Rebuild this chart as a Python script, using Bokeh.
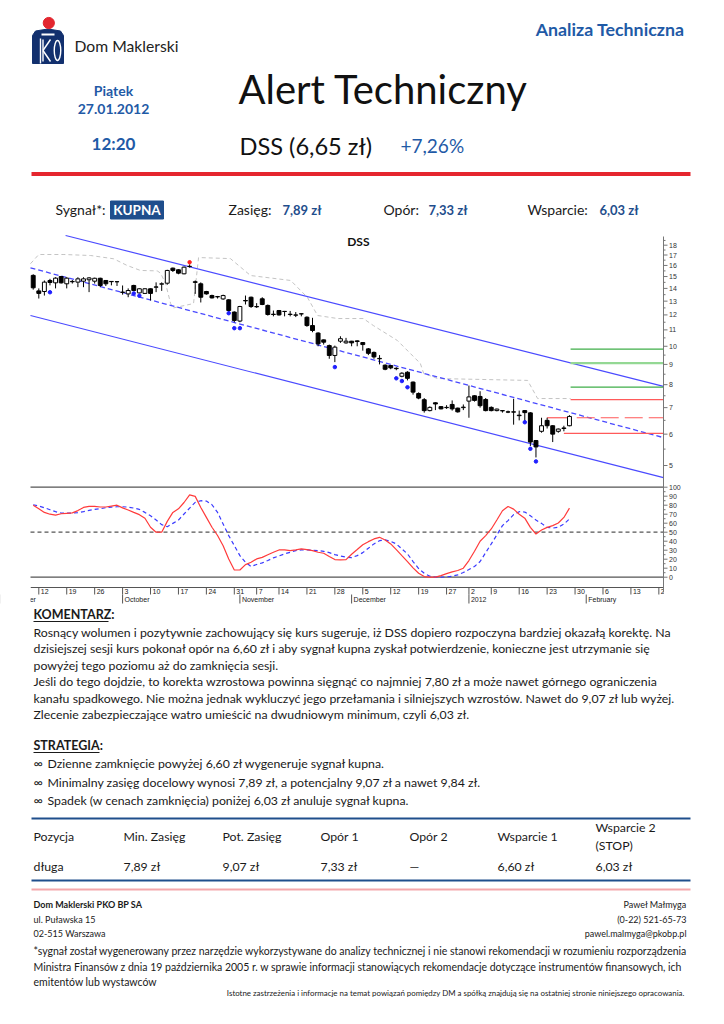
import math
from bokeh.plotting import figure
from bokeh.models import Range1d, LogScale, ColumnDataSource
from bokeh.core.properties import value
from bokeh.embed import file_html
from bokeh.resources import INLINE

# ---------------- data ----------------
idx = list(range(-1, 96))  # trading-day index, 0 = 2011-09-12, 95 = 2012-01-27
open_ = [15.1, 13.8, 13.75, 14.66, 14.46, 15.0, 14.38, 14.58, 14.52, 14.6, 14.72, 14.6, 14.85, 14.66, 14.58, 14.56,
         13.7, 13.56, 14.24, 13.64, 13.6, 13.97, 14.1, 14.35, 14.43, 15.75, 15.6, 15.24, 15.9, 14.55, 14.38, 13.75,
         13.43, 13.35, 13.17, 13.1, 12.2, 11.58, 13.05, 13.3, 12.6, 13.18, 12.68, 12.05, 12.31, 12.25, 12.05, 11.98,
         12.08, 11.84, 11.28, 10.8, 10.38, 10.04, 9.48, 10.3, 10.2, 10.3, 10.32, 10.22, 9.85, 9.65, 9.32, 8.96, 8.94,
         8.8, 8.4, 8.6, 8.12, 7.6, 7.33, 6.88, 7.2, 7.04, 7.0, 7.13, 6.98, 7.0, 7.27, 7.5, 7.47, 7.34, 7.01, 6.88, 6.88,
         6.83, 6.83, 6.7, 6.88, 6.79, 5.78, 6.1, 6.5, 6.3, 6.1, 6.2, 6.3]
high = [15.2, 14.0, 14.66, 14.8, 14.94, 15.05, 14.94, 14.7, 14.94, 14.94, 14.94, 14.9, 14.9, 14.7, 14.6, 14.58,
        14.24, 14.0, 14.3, 14.0, 14.0, 14.0, 14.5, 14.5, 15.6, 15.8, 15.65, 15.9, 16.1, 14.66, 14.5, 13.8,
        13.5, 13.4, 13.5, 13.15, 12.25, 12.65, 13.43, 13.35, 12.85, 13.3, 12.75, 12.31, 12.35, 12.28, 12.28, 12.2,
        12.1, 11.9, 11.8, 10.85, 10.4, 10.1, 10.04, 10.6, 10.5, 10.32, 10.35, 10.25, 9.9, 9.7, 9.5, 9.0, 8.97,
        8.85, 8.6, 8.65, 8.15, 7.65, 7.4, 7.05, 7.22, 7.06, 7.1, 7.3, 7.0, 7.13, 7.96, 7.52, 7.7, 7.4, 7.05, 6.96, 6.9,
        6.88, 7.37, 6.88, 6.9, 6.82, 5.8, 6.6, 6.6, 6.32, 6.2, 6.3, 6.7]
low = [13.9, 13.2, 13.43, 14.25, 14.0, 14.4, 14.0, 14.4, 14.1, 14.1, 13.7, 14.4, 14.1, 14.2, 14.25, 14.2,
       13.5, 13.3, 13.8, 13.6, 13.55, 13.05, 13.7, 13.8, 14.3, 15.4, 15.2, 15.2, 15.8, 13.56, 12.9, 13.5,
       13.2, 13.2, 13.1, 12.2, 11.5, 11.5, 12.75, 12.5, 12.5, 12.7, 11.95, 11.9, 11.95, 11.9, 11.9, 11.85,
       11.9, 11.2, 10.85, 10.0, 10.1, 9.3, 9.12, 10.2, 10.15, 10.0, 10.0, 9.75, 9.5, 9.3, 9.0, 8.7, 8.75,
       8.7, 8.35, 8.2, 7.55, 7.35, 6.8, 6.85, 6.9, 6.93, 6.95, 6.88, 6.8, 6.9, 6.6, 7.25, 7.0, 6.85, 6.85, 6.85, 6.8,
       6.78, 6.34, 6.5, 6.45, 5.6, 5.24, 6.05, 6.2, 5.73, 6.05, 6.1, 6.28]
close = [14.05, 13.6, 14.52, 14.49, 14.86, 14.46, 14.86, 14.55, 14.8, 14.8, 14.88, 14.85, 14.24, 14.38, 14.56, 14.55,
         13.68, 13.83, 13.83, 13.97, 13.97, 13.6, 14.12, 14.38, 15.54, 15.54, 15.3, 15.84, 15.92, 14.5, 13.3, 13.56,
         13.25, 13.33, 13.43, 12.31, 11.62, 12.6, 13.02, 12.6, 12.58, 12.75, 12.03, 12.03, 12.0, 12.24, 12.03, 12.0,
         12.07, 11.28, 10.96, 10.14, 10.24, 9.48, 9.95, 10.45, 10.3, 10.2, 10.28, 10.1, 9.6, 9.4, 9.3, 8.75, 8.82,
         8.78, 8.55, 8.3, 7.66, 7.4, 6.88, 7.01, 7.15, 6.95, 7.01, 6.95, 6.83, 7.02, 7.45, 7.3, 7.08, 6.88, 6.88, 6.94, 6.87,
         6.82, 6.82, 6.68, 6.8, 5.73, 5.57, 6.3, 6.3, 6.0, 6.18, 6.22, 6.65]

stoch_k = [80, 76, 72, 70, 69, 70.5, 71, 71.5, 74, 77.5, 78.6, 78.6, 78, 78, 79, 80, 77, 74.6, 72, 69.5, 65.5, 55.5,
           50, 50, 62, 72, 76, 83, 91.5, 89.8, 77.5, 66.5, 55.5, 46.3, 35, 20.3, 8, 8, 14, 16.6, 20.3, 22, 25, 27.7,
           30.3, 30.3, 29.6, 30.3, 31.4, 30.7, 29.6, 27.7, 26.6, 22.9, 19.6, 19.2, 19.6, 25.5, 30.7, 36, 39.5, 42.5,
           44.3, 41.4, 37, 30.7, 24, 17.4, 10.4, 4.4, 0.7, 0, 0, 1.8, 4, 5.9, 7.4, 10, 18.5, 28.8, 39.9, 46.2, 53.6,
           63.5, 73.9, 78.6, 75.6, 70, 65.6, 55.4, 48, 52.4, 55.4, 57.3, 60.2, 66.4, 76.8]
stoch_d = [80.5, 79, 77.2, 75, 72.8, 71.3, 71.3, 71.3, 71.7, 72.8, 74.2, 75.3, 76.1, 77.2, 77.9, 78.3, 78.3, 77.9,
           76.8, 75.3, 72, 68.3, 63.5, 58.4, 56.1, 59.8, 63.5, 70.2, 76.8, 83.1, 85, 84.6, 80.5, 72, 59.1, 46.2, 35.1,
           24, 16.6, 11.9, 14.1, 15.9, 18.5, 21.5, 23.6, 25.9, 27.7, 29.6, 30.3, 30.3, 29.9, 29.6, 28.8, 27.3, 25.1,
           23.6, 22.2, 21.8, 24, 27.3, 32.2, 37, 40.6, 41.4, 39.9, 37, 31.4, 25.9, 17.4, 9.6, 4.4, 1.1, 0, 0, 0.4, 1.1,
           2.6, 5.2, 8.5, 11.9, 17.4, 27.3, 37, 47, 57.3, 62.9, 69.5, 72.8, 72.4, 68.3, 63.5, 59.8, 55.4, 54.6, 55.4,
           59.1, 64.7]

# trailing stop (grey dashed) vertices: (index, price)
stop_x = [-1.49, 0, 4.5, 9.3, 13.4, 15.8, 18.2, 21.2, 21.8, 22.7, 23.6, 24.1, 27.7, 28.6, 34.3, 37.9, 45.1, 48.1,
          49.9, 53.5, 58.1, 59.9, 64.2, 68.3, 68.9, 71.4, 87.5, 89.3, 95.2]
stop_y = [16.16, 17.05, 17.05, 16.95, 16.63, 16.0, 15.54, 15.5, 15.3, 14.4, 12.82, 12.5, 12.82, 16.75, 16.65, 15.09,
          14.66, 13.28, 11.96, 11.75, 11.75, 11.28, 10.34, 9.05, 8.54, 8.29, 8.2, 7.38, 7.38]

low_mark_x = [2, 17, 18, 34, 35, 36, 53, 64, 65, 66, 87, 88, 89]
low_mark_y = [13.69, 13.6, 13.42, 12.12, 11.11, 11.11, 8.86, 8.30, 8.17, 7.88, 6.43, 5.51, 5.12]
high_mark_x = [27]
high_mark_y = [16.3]

chan_up_x, chan_up_y = [4.8, 111.83], [19.04, 7.92]
chan_lo_x, chan_lo_y = [-1.49, 111.83], [11.96, 4.66]
chan_mid_x, chan_mid_y = [-1.49, 111.83], [15.78, 5.88]

targets = [9.84, 9.07, 7.89]
resist = [7.33]
buy_level = 6.60
stop_level = 6.03

price_ticks = [5, 6, 7, 8, 9, 10, 11, 12, 13, 14, 15, 16, 17, 18]
price_minor = [5.5, 6.5, 7.5, 8.5, 9.5, 10.5, 11.5, 12.5, 13.5, 14.5, 15.5, 16.5, 17.5, 18.5]
stoch_ticks = [0, 10, 20, 30, 40, 50, 60, 70, 80, 90, 100]
stoch_minor = [5, 15, 25, 35, 45, 55, 65, 75, 85, 95]

week_idx = [0, 5, 10, 15, 20, 25, 30, 35, 39, 43, 48, 53, 58, 63, 68, 73, 77, 81, 86, 91, 96, 101, 106, 111]
week_lbl = ["12", "19", "26", "3", "10", "17", "24", "31", "7", "14", "21", "28", "5", "12", "19", "27", "2", "9",
            "16", "23", "30", "6", "13", "20"]
month_idx = [-7, 15, 36, 56, 77, 98]
month_lbl = ["September", "October", "November", "December", "2012", "February"]

table_head = ["Pozycja", "Min. Zasięg", "Pot. Zasięg", "Opór 1", "Opór 2", "Wsparcie 1", "Wsparcie 2"]
table_row = ["długa", "7,89 zł", "9,07 zł", "7,33 zł", "—", "6,60 zł", "6,03 zł"]

comment_lines = [
    "Rosnący wolumen i pozytywnie zachowujący się kurs sugeruje, iż DSS dopiero rozpoczyna bardziej okazałą korektę. Na",
    "dzisiejszej sesji kurs pokonał opór na 6,60 zł i aby sygnał kupna zyskał potwierdzenie, konieczne jest utrzymanie się",
    "powyżej tego poziomu aż do zamknięcia sesji.",
    "Jeśli do tego dojdzie, to korekta wzrostowa powinna sięgnąć co najmniej 7,80 zł a może nawet górnego ograniczenia",
    "kanału spadkowego. Nie można jednak wykluczyć jego przełamania i silniejszych wzrostów. Nawet do 9,07 zł lub wyżej.",
    "Zlecenie zabezpieczające watro umieścić na dwudniowym minimum, czyli 6,03 zł.",
]
strategy_lines = [
    "Dzienne zamknięcie powyżej 6,60 zł wygeneruje sygnał kupna.",
    "Minimalny zasięg docelowy wynosi 7,89 zł, a potencjalny 9,07 zł a nawet 9,84 zł.",
    "Spadek (w cenach zamknięcia) poniżej 6,03 zł anuluje sygnał kupna.",
]
disclaimer = [
    "*sygnał został wygenerowany przez narzędzie wykorzystywane do analizy technicznej i nie stanowi rekomendacji w rozumieniu rozporządzenia",
    "Ministra Finansów z dnia 19 października 2005 r. w sprawie informacji stanowiących rekomendacje dotyczące instrumentów finansowych, ich",
    "emitentów lub wystawców",
]

# ---------------- page geometry (layout only) ----------------
W, H = 720, 1020
X0, DX = 38.3, 5.586          # page x of day 0, px per trading day
PY5, PK = 465.0, 172.0        # page y of price 5, px per ln-unit
SY0, SK = 576.7, 0.9          # page y of stochastic 0, px per unit
LEFT, RIGHT = 30, 663
iL, iR = (LEFT - X0) / DX, (RIGHT - X0) / DX

FONT = "Lato"
BLUE = "#1f5aa6"
NAVY = "#1f4e8c"
TXT = "#1a1a1a"
AX = "#777777"

p = figure(width=W, height=H, x_range=Range1d(0, W), y_range=Range1d(H, 0), output_backend="svg",
           toolbar_location=None, x_axis_location=None, y_axis_location=None, min_border=0, title=None)
p.grid.visible = False
p.outline_line_color = None
p.extra_x_ranges = {"idx": Range1d(-X0 / DX, (W - X0) / DX)}
p.extra_y_ranges = {"price": Range1d(5 * math.exp((PY5 - H) / PK), 5 * math.exp(PY5 / PK)),
                    "stoch": Range1d((SY0 - H) / SK, SY0 / SK)}
p.extra_y_scales = {"price": LogScale()}


def txt(x, y, s, size, color=TXT, bold=False, align="left", font=FONT):
    p.text(x=[x], y=[y], text=[s], text_font=value(font), text_font_size=f"{size}px",
           text_font_style="bold" if bold else "normal", text_color=color, text_align=align,
           text_baseline="middle")


# ---------------- header ----------------
p.patch(x=[32, 32, 35, 47.5, 60, 63, 63], y=[63, 35, 30.5, 28.5, 30.5, 35, 63], color="#12306e")
p.circle(x=[48.3], y=[22.5], radius=5.6, color="#e3262f")
p.segment(x0=[41], y0=[34], x1=[54], y1=[34], line_color="white", line_width=2)
p.segment(x0=[40, 42.5, 42.5, 42.5], y0=[38, 39, 50, 50], x1=[40, 42.5, 50, 50], y1=[63, 61, 39, 61],
          line_color="white", line_width=1.4)
p.ellipse(x=[57], y=[50], width=6.5, height=20, fill_color=None, line_color="white", line_width=1.4)
txt(74, 45.5, "Dom Maklerski", 15.7, color="#222222")
txt(684, 28, "Analiza Techniczna", 17.8, color=BLUE, bold=True, align="right")
txt(113, 90, "Piątek", 14, color=BLUE, bold=True, align="center")
txt(113, 108, "27.01.2012", 14, color=BLUE, bold=True, align="center")
txt(113, 143, "12:20", 17, color=BLUE, bold=True, align="center")
txt(238, 88, "Alert Techniczny", 40, color="#111111")
txt(239, 145, "DSS (6,65 zł)", 23.6, color="#111111")
txt(400, 145, "+7,26%", 19, color=BLUE)
p.segment(x0=[31], y0=[173.5], x1=[690], y1=[173.5], line_color="#e5262e", line_width=4)
# signal row
txt(55, 209, "Sygnał*:", 14)
p.quad(left=[110], right=[163], top=[200.5], bottom=[218.5], color=NAVY)
txt(136.5, 209.5, "KUPNA", 13.5, color="white", bold=True, align="center")
txt(228, 209, "Zasięg:", 14)
txt(282, 209, "7,89 zł", 13, color=NAVY, bold=True)
txt(383, 209, "Opór:", 14)
txt(428, 209, "7,33 zł", 13, color=NAVY, bold=True)
txt(527, 209, "Wsparcie:", 14)
txt(599, 209, "6,03 zł", 13, color=NAVY, bold=True)

# ---------------- price chart ----------------
PR = dict(x_range_name="idx", y_range_name="price")
p.line(stop_x, stop_y, line_color="#c4c4c4", line_dash="4 3", line_width=1, **PR)
p.line(chan_up_x, chan_up_y, line_color="#4a4aff", line_width=1.2, **PR)
p.line(chan_lo_x, chan_lo_y, line_color="#4a4aff", line_width=1.2, **PR)
p.line(chan_mid_x, chan_mid_y, line_color="#4a4aff", line_width=1.3, line_dash="5 3", **PR)

lvl_start = 95.2
p.segment(x0=[lvl_start] * 3, y0=targets, x1=[iR] * 3, y1=targets,
          line_color=["#3fae49", "#94d894", "#3fae49"], line_width=[1.2, 2.2, 1.2], **PR)
p.segment(x0=[lvl_start], y0=resist, x1=[iR], y1=resist, line_color="#ff5a5a", line_width=1.2, **PR)
p.segment(x0=[91], y0=[buy_level], x1=[lvl_start], y1=[buy_level], line_color="#ff5a5a", line_width=1.2, **PR)
p.segment(x0=[lvl_start + 1.1], y0=[buy_level], x1=[iR], y1=[buy_level], line_color="#ff5a5a",
          line_width=1.2, line_dash="18 6", **PR)
p.segment(x0=[94], y0=[stop_level], x1=[iR], y1=[stop_level], line_color="#ff5a5a", line_width=1.2, **PR)

top = [max(o, c) for o, c in zip(open_, close)]
bot = [min(o, c) for o, c in zip(open_, close)]
fill = ["white" if c >= o else "black" for o, c in zip(open_, close)]
src = ColumnDataSource(dict(x=idx, h=high, l=low, top=top, bot=bot, fill=fill))
p.segment(x0="x", y0="l", x1="x", y1="h", source=src, line_color="black", line_width=1, **PR)
p.vbar(x="x", width=0.7, top="top", bottom="bot", fill_color="fill", line_color="black", line_width=1,
       source=src, **PR)
p.scatter(low_mark_x, low_mark_y, size=3.5, color="#2020ff", **PR)
p.scatter(high_mark_x, high_mark_y, size=3.5, color="#ff2020", **PR)
p.text(x=[57.2], y=[18.4], text=["DSS"], text_font=value(FONT), text_font_style="bold", text_font_size="12px",
       text_align="center", text_baseline="middle", text_color="#111111", **PR)

# ---------------- stochastic ----------------
ST = dict(x_range_name="idx", y_range_name="stoch")
p.segment(x0=[iL, iL], y0=[100, 0], x1=[iR, iR], y1=[100, 0], line_color="#555555", line_width=1.3, **ST)
p.segment(x0=[iL], y0=[50], x1=[iR], y1=[50], line_color="#555555", line_width=1.3, line_dash="4 3", **ST)
p.line(idx, stoch_d, line_color="#3a3aff", line_width=1.2, line_dash="4 3", **ST)
p.line(idx, stoch_k, line_color="#ff3b3b", line_width=1.2, **ST)

# ---------------- date strip ----------------
DT = dict(x_range_name="idx")
p.segment(x0=[iL], y0=[587], x1=[iR], y1=[587], line_color="#555555", line_width=1, **DT)
p.segment(x0=week_idx, y0=[587] * len(week_idx), x1=week_idx, y1=[594] * len(week_idx),
          line_color="#555555", line_width=1, **DT)
p.text(x=week_idx, y=[591] * len(week_idx), text=week_lbl, x_offset=2, text_font=value("Liberation Sans"),
       text_font_size="7px", text_baseline="middle", text_align="left", text_color="#222222", **DT)
p.segment(x0=month_idx, y0=[594] * len(month_idx), x1=month_idx, y1=[603] * len(month_idx),
          line_color="#555555", line_width=1, **DT)
p.text(x=month_idx, y=[598.5] * len(month_idx), text=month_lbl, x_offset=2,
       text_font=value("Liberation Sans"), text_font_size="7px", text_baseline="middle", text_align="left",
       text_color="#222222", **DT)
# the strip is cut at the chart edges
p.quad(left=[0, RIGHT + 0.5], right=[LEFT, W], top=[585, 585], bottom=[606, 606], color="white", line_color=None)

# ---------------- right axes ----------------
p.segment(x0=[RIGHT], y0=[236], x1=[RIGHT], y1=[592], line_color=AX, line_width=1)
n = len(price_ticks)
p.segment(x0=[RIGHT] * n, y0=price_ticks, x1=[RIGHT + 4] * n, y1=price_ticks, line_color=AX,
          y_range_name="price")
p.segment(x0=[RIGHT] * len(price_minor), y0=price_minor, x1=[RIGHT + 2] * len(price_minor), y1=price_minor,
          line_color=AX, y_range_name="price")
p.text(x=[RIGHT + 5.5] * n, y=price_ticks, text=[str(t) for t in price_ticks], text_font=value("Liberation Sans"),
       text_font_size="7px", text_baseline="middle", text_align="left", text_color="#333333",
       y_range_name="price")
m = len(stoch_ticks)
p.segment(x0=[RIGHT] * m, y0=stoch_ticks, x1=[RIGHT + 4] * m, y1=stoch_ticks, line_color=AX,
          y_range_name="stoch")
p.segment(x0=[RIGHT] * len(stoch_minor), y0=stoch_minor, x1=[RIGHT + 2] * len(stoch_minor), y1=stoch_minor,
          line_color=AX, y_range_name="stoch")
p.text(x=[RIGHT + 5.5] * m, y=stoch_ticks, text=[str(t) for t in stoch_ticks], text_font=value("Liberation Sans"),
       text_font_size="7px", text_baseline="middle", text_align="left", text_color="#333333",
       y_range_name="stoch")

# ---------------- body ----------------
txt(33, 614, "KOMENTARZ:", 12.5, bold=True)
p.segment(x0=[33], y0=[621], x1=[108], y1=[621], line_color=TXT, line_width=1)
cy = [632, 648.4, 664.8, 681.2, 697.6, 714]
for y, s in zip(cy, comment_lines):
    txt(33, y, s, 12.3)
txt(33, 745, "STRATEGIA:", 12.5, bold=True)
p.segment(x0=[33], y0=[752], x1=[99], y1=[752], line_color=TXT, line_width=1)
for y, s in zip([763, 781.5, 800], strategy_lines):
    txt(33, y, "∞", 12.5)
    txt(47, y, s, 12.3)

# table
p.segment(x0=[31, 31], y0=[818, 880], x1=[690, 690], y1=[818, 880], line_color=NAVY, line_width=2)
col_x = [33, 123, 222, 320, 409, 497, 595]
for x, hd, r in zip(col_x, table_head, table_row):
    if hd == "Wsparcie 2":
        txt(x, 826.5, hd, 12.3)
        txt(x, 845, "(STOP)", 12.3)
    else:
        txt(x, 835.5, hd, 12.3)
    txt(x, 866, r, 12.3)
p.segment(x0=[31], y0=[889], x1=[690], y1=[889], line_color="#f4a7ab", line_width=2)

# footer
txt(33, 904, "Dom Maklerski PKO BP SA", 9, bold=True)
txt(33, 918.5, "ul. Puławska 15", 9)
txt(33, 933, "02-515 Warszawa", 9)
txt(686, 904, "Paweł Małmyga", 9, align="right")
txt(686, 918.5, "(0-22) 521-65-73", 9, align="right")
txt(686, 933, "pawel.malmyga@pkobp.pl", 9, align="right")
for y, s in zip([950, 966, 981], disclaimer):
    txt(33, y, s, 10.5)
txt(684, 992, "Istotne zastrzeżenia i informacje na temat powiązań pomiędzy DM a spółką znajdują się na "
              "ostatniej stronie niniejszego opracowania.", 7.9, align="right")

open("out.html", "w").write(file_html(p, INLINE))
